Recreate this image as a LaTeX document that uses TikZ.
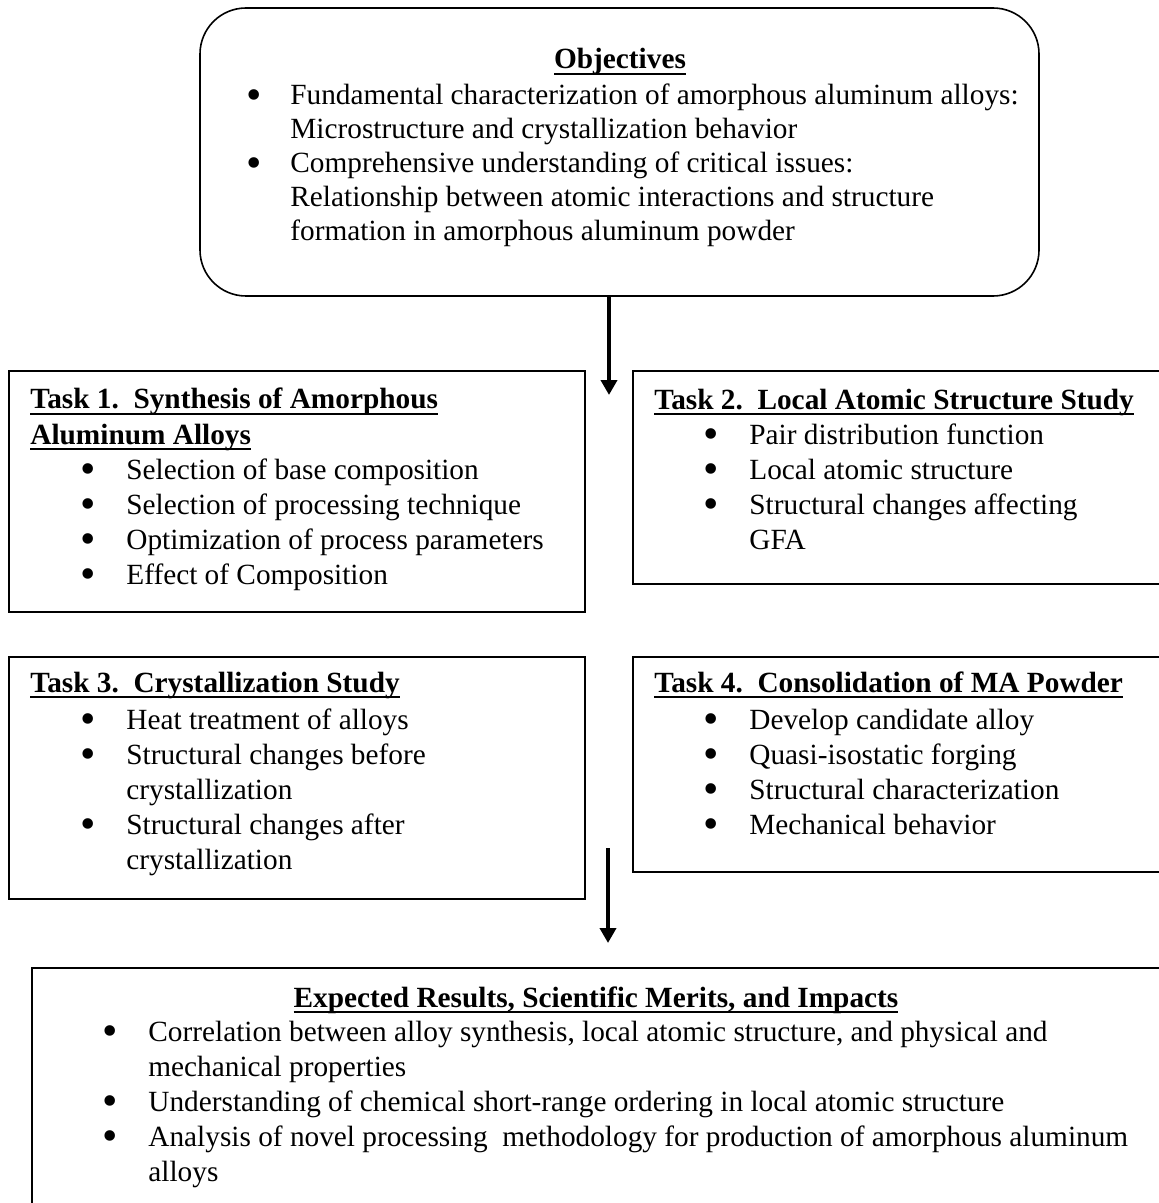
\documentclass[tikz,border=0pt]{standalone}
\usepackage{fontspec}
\setmainfont{Liberation Serif}
\usepackage{tikz}
\usetikzlibrary{arrows.meta,fit}
\newcommand\hdul[1]{\setbox0\hbox{\bfseries#1}\rlap{\rule[-3.2pt]{\wd0}{1.3pt}}\box0}
\newcommand\bul[1][23pt]{\makebox[#1][l]{\smash{\raisebox{-0.17em}{\scalebox{1.5}{\textbullet}}}}}
\newcommand\bcont[1][23pt]{\hspace*{#1}}
\begin{document}
\begin{tikzpicture}[x=0.5pt,y=-0.5pt,
box/.style={draw,line width=0.8pt,inner sep=0pt},
txt/.style={inner sep=0pt,align=left,anchor=base west,font=\fontsize{14.65pt}{17.5pt}\selectfont},
arr/.style={line width=2.2pt,-{Triangle[width=8pt,length=7.5pt]}}]
\useasboundingbox (0,0) rectangle (1158,1203);
\node[box,rounded corners=23pt,fit={(200,8)(1039,296)}](obj){};
\node[box,fit={(9,371)(585,612)}](t1){};
\node[box,fit={(633,371)(1162,584)}](t2){};
\node[box,fit={(9,657)(585,899)}](t3){};
\node[box,fit={(633,657)(1162,872)}](t4){};
\node[box,fit={(32,968)(1162,1210)}](res){};
\node[txt,anchor=base](objt) at (620,69){\hdul{Objectives}};
\node[txt,font=\fontsize{14.65pt}{17pt}\selectfont](objl) at (246,241){\bul[22pt]Fundamental characterization of amorphous aluminum alloys:\\
\bcont[22pt]Microstructure and crystallization behavior\\
\bul[22pt]Comprehensive understanding of critical issues:\\
\bcont[22pt]Relationship between atomic interactions and structure\\
\bcont[22pt]formation in amorphous aluminum powder};
\node[txt](t1t) at (30,444){\hdul{Task 1.\ \ Synthesis of Amorphous}\\\hdul{Aluminum Alloys}};
\node[txt](t1l) at (80,584){\bul Selection of base composition\\
\bul Selection of processing technique\\
\bul Optimization of process parameters\\
\bul Effect of Composition};
\node[txt](t2t) at (654,409){\hdul{Task 2.\ \ Local Atomic Structure Study}};
\node[txt](t2l) at (703,549){\bul Pair distribution function\\
\bul Local atomic structure\\
\bul Structural changes affecting\\
\bcont GFA};
\node[txt](t3t) at (30,692){\hdul{Task 3.\ \ Crystallization Study}};
\node[txt](t3l) at (80,869){\bul Heat treatment of alloys\\
\bul Structural changes before\\
\bcont crystallization\\
\bul Structural changes after\\
\bcont crystallization};
\node[txt](t4t) at (654,692){\hdul{Task 4.\ \ Consolidation of MA Powder}};
\node[txt](t4l) at (703,834){\bul Develop candidate alloy\\
\bul Quasi-isostatic forging\\
\bul Structural characterization\\
\bul Mechanical behavior};
\node[txt,anchor=base](rest) at (596,1007){\hdul{Expected Results, Scientific Merits, and Impacts}};
\node[txt](resl) at (102,1181){\bul Correlation between alloy synthesis, local atomic structure, and physical and\\
\bcont mechanical properties\\
\bul Understanding of chemical short-range ordering in local atomic structure\\
\bul Analysis of novel processing\ \ methodology for production of amorphous aluminum\\
\bcont alloys};
\coordinate (a1) at (609,395);
\coordinate (a2s) at (608,848);
\coordinate (a2e) at (608,943);
\draw[arr] (obj.south -| a1) -- (a1);
\draw[arr] (a2s) -- (a2e);
\end{tikzpicture}
\end{document}
